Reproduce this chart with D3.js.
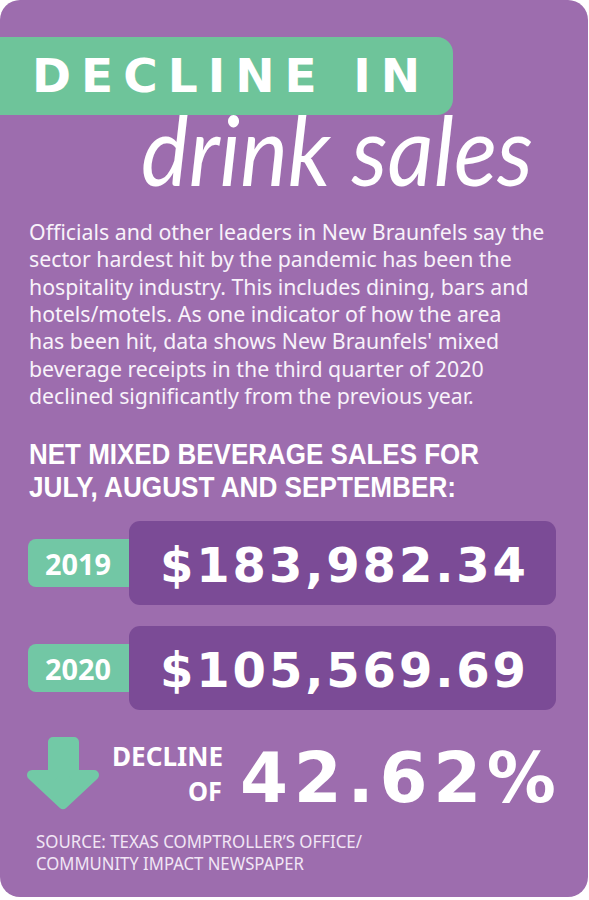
<!DOCTYPE html>
<html><head><meta charset="utf-8">
<script src="https://cdn.jsdelivr.net/npm/d3@7"></script>
<style>html,body{margin:0;padding:0;background:#fff;} svg{display:block}</style>
</head><body>
<script>
// ---- data ----
const titleTop = "DECLINE IN";
const titleScript = "drink sales";
const introLines = [
  "Officials and other leaders in New Braunfels say the",
  "sector hardest hit by the pandemic has been the",
  "hospitality industry. This includes dining, bars and",
  "hotels/motels. As one indicator of how the area",
  "has been hit, data shows New Braunfels' mixed",
  "beverage receipts in the third quarter of 2020",
  "declined significantly from the previous year."
];
const headingLines = ["NET MIXED BEVERAGE SALES FOR", "JULY, AUGUST AND SEPTEMBER:"];
const years = ["2019", "2020"];
const sales = [183982.34, 105569.69];
const declinePercent = 42.62;
const declineWords = ["DECLINE", "OF"];
const sourceLines = ["SOURCE: TEXAS COMPTROLLER\u2019S OFFICE/", "COMMUNITY IMPACT NEWSPAPER"];

// ---- layout / style ----
const W = 589, H = 900;
const C = {
  card: "#9d6dae", banner: "#6ec49a", dark: "#7b4b96", label: "#72c7a5",
  arrow: "#72c9a6", text: "#ffffff", soft: "#f8f2fa", source: "#f1e6f5"
};
const heavy = "'DejaVu Sans', 'Noto Sans', sans-serif";
const bold = "'Noto Sans', 'Open Sans', sans-serif";
const tight = "'Liberation Sans', Arial, sans-serif";

const svg = d3.select("body").append("svg").attr("width", W).attr("height", H);

function fit(sel, w, adj) {
  sel.attr("textLength", w).attr("lengthAdjust", adj || "spacingAndGlyphs");
  return sel;
}

// card
svg.append("rect").attr("x", 0).attr("y", 0).attr("width", 588).attr("height", 897)
  .attr("rx", 20).attr("fill", C.card);

// banner
svg.append("path").attr("fill", C.banner)
  .attr("d", (() => { const p = d3.path(); const x0 = 0, x1 = 453, y0 = 37, y1 = 115, r = 16;
    p.moveTo(x0, y0); p.lineTo(x1 - r, y0); p.arcTo(x1, y0, x1, y0 + r, r);
    p.lineTo(x1, y1 - r); p.arcTo(x1, y1, x1 - r, y1, r); p.lineTo(x0, y1); p.closePath(); return p.toString(); })());

fit(svg.append("text").attr("x", 32).attr("y", 92).text(titleTop)
  .attr("font-family", heavy).attr("font-weight", 700).attr("font-size", 47)
  .attr("fill", C.text), 388, "spacing");

fit(svg.append("text").attr("x", 141).attr("y", 186).text(titleScript)
  .attr("font-family", "Lato, sans-serif").attr("font-style", "italic").attr("font-weight", 400)
  .attr("font-size", 98).attr("fill", C.text), 392);

// intro paragraph
const lineY = d3.scaleLinear().domain([0, introLines.length - 1]).range([240, 404]);
svg.append("g").selectAll("text").data(introLines).join("text")
  .attr("x", 29).attr("y", (d, i) => lineY(i)).text(d => d)
  .attr("font-family", "'Noto Sans', sans-serif").attr("font-size", 21.3)
  .attr("fill", C.soft);

// heading
const headY = d3.scaleLinear().domain([0, 1]).range([464, 497]);
const headW = [450, 427];
svg.append("g").selectAll("text").data(headingLines).join("text")
  .attr("x", 29).attr("y", (d, i) => headY(i)).text(d => d)
  .attr("font-family", tight).attr("font-weight", 700).attr("font-size", 29)
  .attr("fill", C.text)
  .each(function (d, i) { fit(d3.select(this), headW[i]); });

// rows
const rowY = d3.scalePoint().domain(years).range([521, 626]);
const money = d3.format("$,.2f");
const rows = svg.append("g").selectAll("g").data(years).join("g")
  .attr("transform", d => `translate(0,${rowY(d)})`);
rows.append("rect").attr("x", 28).attr("y", 18).attr("width", 130).attr("height", 48)
  .attr("rx", 8).attr("fill", C.label);
rows.append("rect").attr("x", 129).attr("y", 0).attr("width", 427).attr("height", 84)
  .attr("rx", 11).attr("fill", C.dark);
rows.append("text").attr("x", 45).attr("y", 54).text(d => d)
  .attr("font-family", bold).attr("font-weight", 700).attr("font-size", 28)
  .attr("fill", C.text).attr("textLength", 66).attr("lengthAdjust", "spacingAndGlyphs");
rows.append("text").attr("x", 160).attr("y", 61).text((d, i) => money(sales[i]))
  .attr("font-family", heavy).attr("font-weight", 700).attr("font-size", 48)
  .attr("fill", C.text).attr("textLength", 366).attr("lengthAdjust", "spacing");

// arrow
svg.append("path").attr("fill", C.arrow).attr("stroke", C.arrow)
  .attr("stroke-width", 10).attr("stroke-linejoin", "round")
  .attr("d", (() => { const p = d3.path();
    p.moveTo(53, 742); p.lineTo(74, 742); p.lineTo(74, 775); p.lineTo(94, 775);
    p.lineTo(63, 804); p.lineTo(32, 775); p.lineTo(53, 775); p.closePath(); return p.toString(); })());

svg.append("text").attr("x", 112).attr("y", 766).text(declineWords[0])
  .attr("font-family", bold).attr("font-weight", 700).attr("font-size", 27)
  .attr("fill", C.text).attr("textLength", 111).attr("lengthAdjust", "spacingAndGlyphs");
svg.append("text").attr("x", 188).attr("y", 801).text(declineWords[1])
  .attr("font-family", bold).attr("font-weight", 700).attr("font-size", 27)
  .attr("fill", C.text).attr("textLength", 34).attr("lengthAdjust", "spacingAndGlyphs");
svg.append("text").attr("x", 240).attr("y", 802).text(d3.format(".2f")(declinePercent) + "%")
  .attr("font-family", heavy).attr("font-weight", 700).attr("font-size", 69)
  .attr("fill", C.text).attr("textLength", 316).attr("lengthAdjust", "spacing");

// source
const srcY = d3.scaleLinear().domain([0, 1]).range([848, 870]);
const srcW = [326, 268];
svg.append("g").selectAll("text").data(sourceLines).join("text")
  .attr("x", 36).attr("y", (d, i) => srcY(i)).text(d => d)
  .attr("font-family", bold).attr("font-size", 17.5).attr("fill", C.source)
  .each(function (d, i) { fit(d3.select(this), srcW[i]); });
</script>
</body></html>
